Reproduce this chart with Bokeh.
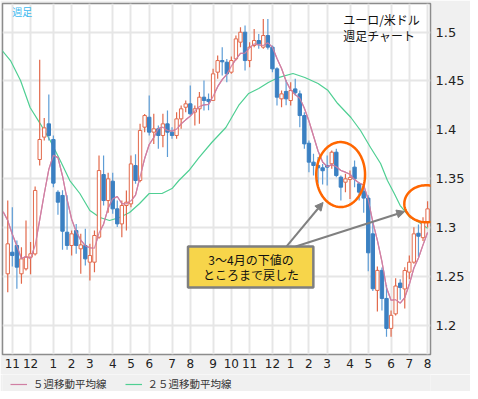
import numpy as np
import pandas as pd
from bokeh.plotting import figure
from bokeh.layouts import column
from bokeh.models import (ColumnDataSource, FixedTicker, NumeralTickFormatter, Legend, LegendItem,
                          Arrow, NormalHead, PolyAnnotation, Range1d)
from bokeh.embed import file_html
from bokeh.resources import INLINE
from bokeh.core.properties import value

# ---------------- data (weekly EUR/USD) ----------------
opens = [1.2525, 1.2746, 1.2815, 1.2525, 1.2576, 1.2695, 1.2729, 1.3695, 1.3924, 1.4060,
         1.3900, 1.3360, 1.3327, 1.2951, 1.2815, 1.2968, 1.2781, 1.2815, 1.2644, 1.2644,
         1.2900, 1.3541, 1.3275, 1.3473, 1.3190, 1.3036, 1.3224, 1.3241, 1.3633, 1.3480,
         1.4026, 1.4128, 1.3975, 1.4009, 1.3941, 1.4060, 1.3975, 1.3941, 1.4111, 1.4230,
         1.4265, 1.4180, 1.4214, 1.4333, 1.4310, 1.4300, 1.4589, 1.4708, 1.4691, 1.4589,
         1.4725, 1.4896, 1.4998, 1.4708, 1.4862, 1.4913, 1.4845, 1.4964, 1.4845, 1.4623,
         1.4316, 1.4392, 1.4299, 1.4418, 1.4367, 1.4145, 1.3862, 1.3668, 1.3634, 1.3610,
         1.3634, 1.3651, 1.3770, 1.3514, 1.3463, 1.3490, 1.3617, 1.3446, 1.3370, 1.3300,
         1.2934, 1.2355, 1.2560, 1.2273, 1.1966, 1.2115, 1.2430, 1.2370, 1.2542, 1.2644,
         1.2940, 1.2895, 1.3060]
highs = [1.3275, 1.3207, 1.2866, 1.2798, 1.3071, 1.2850, 1.3419, 1.4715, 1.4121, 1.4360,
         1.3941, 1.3380, 1.3380, 1.3330, 1.2968, 1.3036, 1.2934, 1.2985, 1.2832, 1.2968,
         1.3736, 1.3736, 1.3560, 1.3560, 1.3275, 1.3275, 1.3378, 1.3736, 1.3750, 1.4060,
         1.4162, 1.4350, 1.4163, 1.4043, 1.4163, 1.4197, 1.4026, 1.4180, 1.4248, 1.4300,
         1.4453, 1.4248, 1.4385, 1.4504, 1.4370, 1.4623, 1.4759, 1.4845, 1.4725, 1.4750,
         1.4964, 1.5049, 1.5066, 1.4896, 1.5032, 1.4981, 1.5134, 1.5134, 1.4862, 1.4640,
         1.4401, 1.4510, 1.4486, 1.4521, 1.4401, 1.4179, 1.3889, 1.3753, 1.3720, 1.3650,
         1.3736, 1.3787, 1.3804, 1.3531, 1.3548, 1.3582, 1.3685, 1.3463, 1.3440, 1.3330,
         1.3050, 1.2600, 1.2590, 1.2410, 1.2150, 1.2480, 1.2470, 1.2593, 1.2712, 1.3002,
         1.3030, 1.3105, 1.3268]
lows = [1.2337, 1.2600, 1.2371, 1.2422, 1.2559, 1.2520, 1.2712, 1.3633, 1.3889, 1.3889,
        1.3410, 1.3130, 1.2770, 1.2770, 1.2713, 1.2730, 1.2525, 1.2610, 1.2456, 1.2542,
        1.2883, 1.3224, 1.3150, 1.3139, 1.3003, 1.2900, 1.2968, 1.3207, 1.3446, 1.3463,
        1.3975, 1.3940, 1.3855, 1.3804, 1.3821, 1.3720, 1.3907, 1.3907, 1.4009, 1.4180,
        1.4146, 1.4043, 1.4060, 1.4197, 1.4200, 1.4299, 1.4521, 1.4555, 1.4486, 1.4572,
        1.4708, 1.4845, 1.4606, 1.4640, 1.4845, 1.4828, 1.4828, 1.4820, 1.4589, 1.4248,
        1.4231, 1.4250, 1.4248, 1.4350, 1.4026, 1.3804, 1.3565, 1.3531, 1.3450, 1.3440,
        1.3429, 1.3600, 1.3514, 1.3275, 1.3361, 1.3292, 1.3412, 1.3275, 1.3150, 1.2550,
        1.2350, 1.2140, 1.2150, 1.1880, 1.1880, 1.2098, 1.2260, 1.2170, 1.2470, 1.2627,
        1.2700, 1.2860, 1.3000]
closes = [1.2832, 1.2712, 1.2593, 1.2678, 1.2695, 1.2730, 1.3378, 1.3900, 1.4019, 1.3941,
          1.3453, 1.3258, 1.2961, 1.2815, 1.2934, 1.2815, 1.2821, 1.2678, 1.2712, 1.2917,
          1.3582, 1.3275, 1.3497, 1.3190, 1.3036, 1.3224, 1.3258, 1.3650, 1.3480, 1.3992,
          1.4145, 1.3975, 1.4009, 1.3941, 1.4060, 1.3975, 1.3941, 1.4111, 1.4214, 1.4265,
          1.4163, 1.4214, 1.4333, 1.4299, 1.4290, 1.4572, 1.4708, 1.4695, 1.4572, 1.4708,
          1.4930, 1.4998, 1.4708, 1.4845, 1.4913, 1.4879, 1.4964, 1.4845, 1.4623, 1.4333,
          1.4367, 1.4316, 1.4401, 1.4378, 1.4145, 1.3855, 1.3668, 1.3634, 1.3610, 1.3580,
          1.3617, 1.3770, 1.3531, 1.3412, 1.3497, 1.3510, 1.3497, 1.3361, 1.3300, 1.2740,
          1.2372, 1.2560, 1.2273, 1.1966, 1.2100, 1.2400, 1.2385, 1.2559, 1.2644, 1.2934,
          1.2910, 1.3060, 1.3190]

# 5-week MA values before enough weeks are on the chart (read), weeks -1..3
ma5_head = [1.316, 1.307, 1.293, 1.281, 1.268]

# 25-week MA: (week index, value)
ma25_week = [-1.6, 0.6, 2.8, 4.9, 7.1, 9.3, 11.5, 13.6, 15.8, 18.0, 20.2, 22.3, 24.5, 26.7,
             28.9, 31.0, 33.8, 36.0, 37.5, 39.7, 41.9, 44.7, 47.8, 50.6, 52.8, 55.0, 57.1,
             59.3, 62.5, 65.1, 68.0, 70.2, 72.3, 75.2, 77.3, 79.5, 81.7, 83.2, 84.7, 86.0,
             88.2, 90.2, 92.0]
ma25_val = [1.4831, 1.4708, 1.4504, 1.4227, 1.4063, 1.3889, 1.3685, 1.3480, 1.3347, 1.3173,
            1.3101, 1.3071, 1.3101, 1.3153, 1.3245, 1.3347, 1.3347, 1.3398, 1.3480, 1.3582,
            1.3715, 1.3869, 1.4023, 1.4248, 1.4371, 1.4422, 1.4483, 1.4534, 1.4575, 1.4534,
            1.4473, 1.4401, 1.4268, 1.4125, 1.3992, 1.3818, 1.3654, 1.3480, 1.3347, 1.3224,
            1.3101, 1.3050, 1.2990]

month_ticks = [1, 5, 10, 14, 18, 23, 27, 31, 36, 40, 45, 49, 53, 58, 62, 66, 70, 75, 79, 84, 88, 92]
month_labels = ["11", "12", "1", "2", "3", "4", "5", "6", "7", "8", "9", "10",
                "11", "12", "1", "2", "3", "4", "5", "6", "7", "8"]
price_ticks = [1.2, 1.25, 1.3, 1.35, 1.4, 1.45, 1.5]

legend_labels = ["５週移動平均線", "２５週移動平均線"]
title_lines = ["ユーロ/米ドル", "週足チャート"]
note_lines = ["3～4月の下値の", "ところまで戻した"]

# ---------------- styles ----------------
UP = "#e2694b"
DOWN = "#3b80c2"
DOWN_WICK = "#5e9dd6"
MA5_C = "#d07fa3"
MA25_C = "#4fcf93"
GRID = "#e6e6e6"
BG = "#f0f0f0"
JP = "Noto Sans CJK JP"
W = 470

df = pd.DataFrame({"o": opens, "h": highs, "l": lows, "c": closes})
df["x"] = np.arange(len(df))
df["top"] = df[["o", "c"]].max(axis=1)
df["bot"] = df[["o", "c"]].min(axis=1)
up = ColumnDataSource(df[df.c >= df.o])
dn = ColumnDataSource(df[df.c < df.o])

ma5_calc = df["c"].rolling(5).mean()
ma5_x = list(range(-1, 4)) + list(df["x"][4:])
ma5_y = ma5_head + list(ma5_calc[4:])

p = figure(width=W, height=374, output_backend="svg", toolbar_location=None,
           x_range=Range1d(-1.15, 92.64), y_range=Range1d(1.1699, 1.5292),
           y_axis_location="right",
           min_border_left=2, min_border_top=3, min_border_right=40, min_border_bottom=20,
           background_fill_color="white", border_fill_color=BG,
           outline_line_color="#8c8c8c", outline_line_width=1.5)

# grid
p.xgrid.ticker = FixedTicker(ticks=month_ticks)
p.ygrid.ticker = FixedTicker(ticks=price_ticks)
for g in (p.xgrid, p.ygrid):
    g.grid_line_color = GRID
    g.grid_line_width = 2

# axes
p.xaxis.ticker = FixedTicker(ticks=month_ticks)
p.xaxis.major_label_overrides = {t: l for t, l in zip(month_ticks, month_labels)}
p.yaxis.ticker = FixedTicker(ticks=price_ticks)
p.yaxis.formatter = NumeralTickFormatter(format="0.[00]")
for ax in (p.xaxis, p.yaxis):
    ax.axis_line_color = None
    ax.major_tick_line_color = None
    ax.minor_tick_line_color = None
    ax.major_tick_out = 0
    ax.major_tick_in = 0
    ax.major_label_text_font = "DejaVu Sans"
    ax.major_label_text_color = "#222222"
p.xaxis.major_label_text_font_size = "12px"
p.xaxis.major_label_standoff = 4
p.yaxis.major_label_text_font_size = "13px"
p.yaxis.major_label_standoff = 5

# moving averages
p.line(ma25_week, ma25_val, line_color=MA25_C, line_width=1.2)
p.line(ma5_x, ma5_y, line_color=MA5_C, line_width=1.2)

# candles
p.segment(x0="x", y0="h", x1="x", y1="l", source=dn, line_color=DOWN_WICK, line_width=1.2)
p.vbar(x="x", width=0.74, top="top", bottom="bot", source=dn,
       fill_color=DOWN, line_color=DOWN, line_width=1)
p.segment(x0="x", y0="h", x1="x", y1="l", source=up, line_color=UP, line_width=1.2)
p.vbar(x="x", width=0.74, top="top", bottom="bot", source=up,
       fill_color="white", line_color=UP, line_width=1)

# 5-week MA drawn again above the candles, as in the reference
p.line(ma5_x, ma5_y, line_color=MA5_C, line_width=1.2, line_alpha=0.9)

# orange ellipses
t = np.linspace(0, 2 * np.pi, 90)
def ell(cx, cy, w, h):
    return list(cx + w / 2 * np.cos(t)), list(cy + h / 2 * np.sin(t))
ex, ey = ell(72.95, 1.3541, 10.7, 0.0665)
p.add_layout(PolyAnnotation(xs=ex, ys=ey, fill_alpha=0, line_color="#ff6600",
                            line_alpha=1, line_width=2.5))
ex2, ey2 = ell(91.7, 1.3242, 9.6, 0.0379)
p.add_layout(PolyAnnotation(xs=ex2, ys=ey2, fill_alpha=0, line_color="#ff6600",
                            line_alpha=1, line_width=2.5))

# arrows
for xs_, ys_, xe, ye in [(61.1, 1.2805, 69.1, 1.3255), (63.1, 1.2805, 87.0, 1.3163)]:
    p.add_layout(Arrow(end=NormalHead(size=8, fill_color="#808080", line_color="#808080"),
                       x_start=xs_, y_start=ys_, x_end=xe, y_end=ye,
                       line_color="#808080", line_width=2))

# note box
p.quad(left=[39.5], right=[66.97], top=[1.2805], bottom=[1.2385],
       fill_color="#f7d54a", line_color="#7f7f7f", line_width=2.5)
p.text(x=[53.3, 53.3], y=[1.2671, 1.2518], text=note_lines, text_font=value(JP),
       text_font_size="12px", text_color="#111111", text_align="center", text_baseline="middle")

# titles
p.text(x=[73.5, 73.5], y=[1.5128, 1.4968], text=title_lines, text_font=value(JP),
       text_font_size="12px", text_color="#111111", text_align="left", text_baseline="middle")
p.text(x=[1.0], y=[1.521], text=["週足"], text_font=value(JP), text_font_size="10px",
       text_color="#3bb9ef", text_align="left", text_baseline="middle")

# legend strip under the date labels (sample lines lie outside its visible range)
lg = figure(width=W, height=17, output_backend="svg", toolbar_location=None,
            x_range=Range1d(0, 1), y_range=Range1d(0, 1),
            min_border=0, background_fill_color=BG, border_fill_color=BG,
            outline_line_color=None)
lg.axis.visible = False
lg.grid.visible = False
l5 = lg.line([5, 6], [5, 5], line_color=MA5_C, line_width=1.2)
l25 = lg.line([5, 6], [5, 5], line_color=MA25_C, line_width=1.2)
legend = Legend(items=[LegendItem(label=legend_labels[0], renderers=[l5]),
                       LegendItem(label=legend_labels[1], renderers=[l25])],
                orientation="horizontal", location=(8, 0),
                label_text_font=JP, label_text_font_size="10.5px", label_text_color="#333333",
                label_height=12, glyph_width=17, glyph_height=12, spacing=18, label_standoff=6,
                padding=2, margin=0, border_line_color=None, background_fill_alpha=0)
lg.add_layout(legend)

layout = column(p, lg, spacing=0)
open("out.html", "w").write(file_html(layout, INLINE))
